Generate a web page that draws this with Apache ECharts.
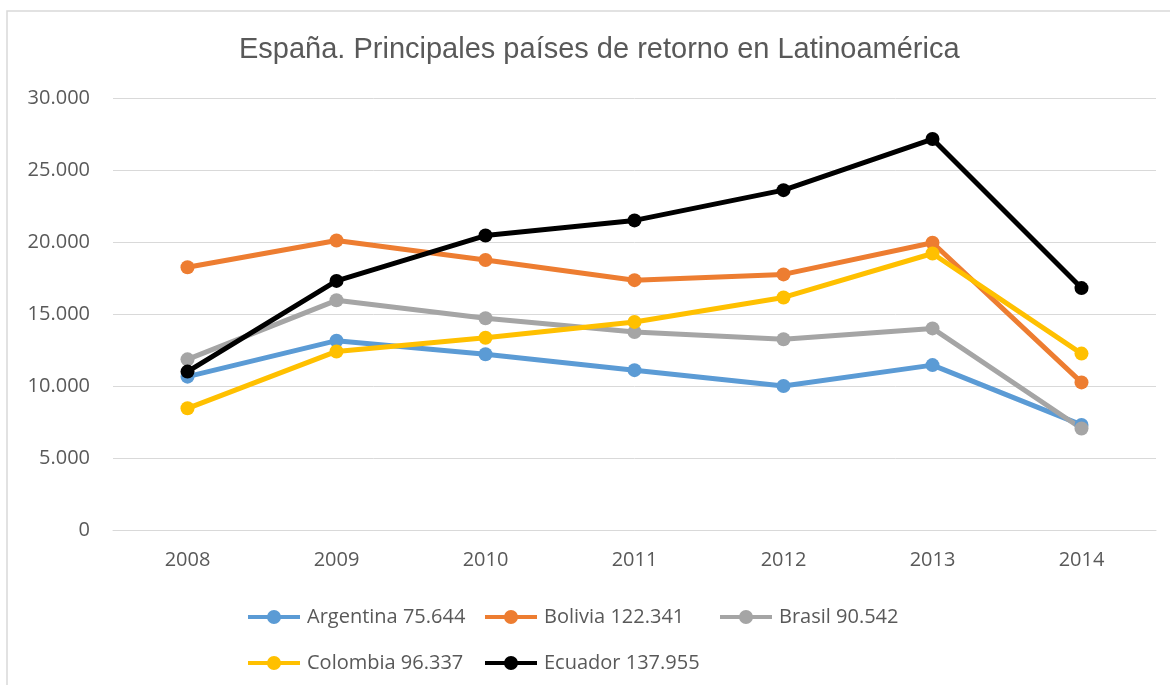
<!DOCTYPE html>
<html>
<head>
<meta charset="utf-8">
<script src="https://cdn.jsdelivr.net/npm/echarts@6/dist/echarts.min.js"></script>
<style>
  html,body{margin:0;padding:0;background:#fff;}
  #chart{width:1170px;height:685px;}
</style>
</head>
<body>
<div id="chart"></div>
<script>
// datos
var years = ['2008','2009','2010','2011','2012','2013','2014'];
var argentina = [10650, 13150, 12200, 11100, 10000, 11450, 7300];
var bolivia   = [18250, 20100, 18750, 17350, 17750, 19950, 10250];
var brasil    = [11850, 15950, 14700, 13750, 13250, 14000, 7050];
var colombia  = [8450, 12400, 13350, 14450, 16150, 19200, 12250];
var ecuador   = [11000, 17300, 20450, 21500, 23600, 27150, 16800];
var seriesNames = ['Argentina 75.644','Bolivia 122.341','Brasil 90.542','Colombia 96.337','Ecuador 137.955'];
var yTicks = [0, 5000, 10000, 15000, 20000, 25000, 30000];

var colors = ['#5B9BD5','#ED7D31','#A5A5A5','#FFC000','#000000'];
var allData = [argentina, bolivia, brasil, colombia, ecuador];
var font = 'Open Sans, Noto Sans, sans-serif';

function fmt(v){
    return String(v).replace(/\B(?=(\d{3})+(?!\d))/g, '.');
}

var chart = echarts.init(document.getElementById('chart'));

//icono de leyenda: linea con circulo
var legendIcon = 'path://M0,5L52,5L52,9L0,9Z M33,7A7,7 0 1 1 19,7A7,7 0 1 1 33,7Z';

//leyenda: una por elemento para colocarlas como en Excel
var legendPos = [[243,602],[480,602],[715,602],[243,648],[480,648]];
var legends = seriesNames.map(function(name, i){
    return {
        data:[{name:name,icon:legendIcon,itemStyle:{color:colors[i]}}],
        left:legendPos[i][0],
        top:legendPos[i][1],
        itemWidth:52,
        itemHeight:14,
        itemGap:0,
        textStyle:{color:'#595959',fontSize:20,fontFamily:font,padding:[0,0,0,2]}
    };
});

chart.setOption({
    animation:false,
    color:colors,
    title:{
        text:'España. Principales países de retorno en Latinoamérica',
        left:234,
        top:30,
        textStyle:{
            color:'#595959',
            fontSize:29,
            fontWeight:'normal',
            fontFamily:'Liberation Sans, sans-serif'
        }
    },
    legend:legends,
    grid:{left:113,right:14,top:98,bottom:155,containLabel:false},
    xAxis:{
        type:'category',
        data:years,
        boundaryGap:true,
        axisLine:{show:true,lineStyle:{color:'#d9d9d9',width:1}},
        axisTick:{show:false},
        axisLabel:{color:'#595959',fontSize:20,fontFamily:font,margin:20}
    },
    yAxis:{
        type:'value',
        min:yTicks[0],
        max:yTicks[yTicks.length-1],
        interval:5000,
        axisLine:{show:false},
        axisTick:{show:false},
        splitLine:{lineStyle:{color:'#d9d9d9',width:1}},
        axisLabel:{color:'#595959',fontSize:20,fontFamily:font,margin:23,formatter:fmt}
    },
    graphic:[{
        type:'rect',
        shape:{x:7,y:11,width:1200,height:700},
        style:{fill:'none',stroke:'#d9d9d9',lineWidth:1.5},
        silent:true,
        z:-10
    }],
    series:seriesNames.map(function(name, i){
        return {
            name:name,
            type:'line',
            data:allData[i],
            symbol:'circle',
            symbolSize:14,
            lineStyle:{width:5,color:colors[i]},
            itemStyle:{color:colors[i]}
        };
    })
});
</script>
</body>
</html>
